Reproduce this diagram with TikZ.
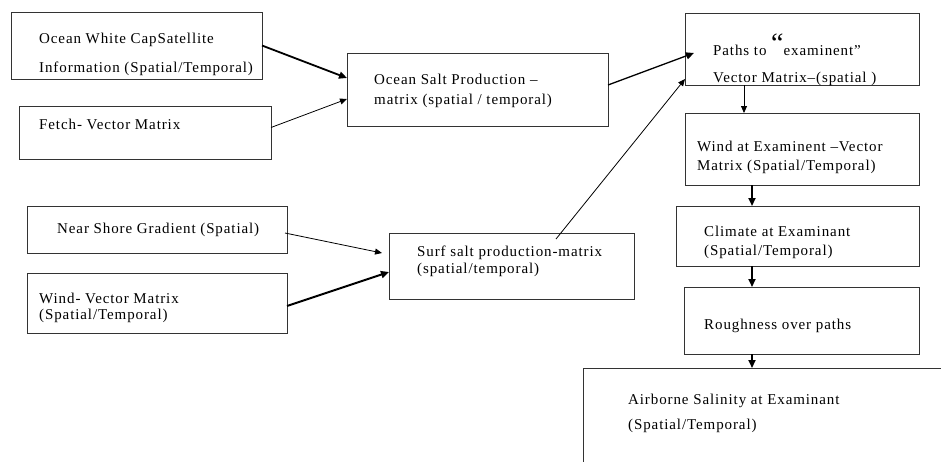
\documentclass[tikz,border=0pt]{standalone}
\usepackage{fontspec}
\setmainfont{Liberation Serif}[LetterSpace=6]
\usepackage{tikz}
\usetikzlibrary{arrows.meta}

\begin{document}
\begin{tikzpicture}[
        x=1pt, y=-1pt,
        box/.style={rectangle, draw=black!80, line width=0.8pt, anchor=north west,
                    inner sep=0pt, outer sep=0pt},
        txt/.style={anchor=north west, inner sep=0pt, align=left,
                    font=\fontsize{15}{20}\selectfont},
        arrow/.style={-{Triangle[length=7pt, width=6pt]}, line width=0.8pt},
        heavy/.style={-{Triangle[length=8pt, width=7pt]}, line width=1.8pt},
    ]
        \useasboundingbox (0,0) rectangle (941,461);
        \clip (0,0) rectangle (941,461);

        % input boxes on the left
        \node[box, minimum width=251pt, minimum height=67pt] (whitecap) at (11,12) {};
        \node[box, minimum width=252pt, minimum height=53pt] (fetch) at (19,106) {};
        \node[box, minimum width=260pt, minimum height=47pt] (nearshore) at (27,206) {};
        \node[box, minimum width=260pt, minimum height=60pt] (windvec) at (27,273) {};

        % production boxes
        \node[box, minimum width=261pt, minimum height=73pt] (oceansalt) at (347,53) {};
        \node[box, minimum width=245pt, minimum height=66pt] (surf) at (389,233) {};

        % chain on the right
        \node[box, minimum width=234pt, minimum height=72pt] (paths) at (685,13) {};
        \node[box, minimum width=234pt, minimum height=72pt] (windat) at (685,113) {};
        \node[box, minimum width=243pt, minimum height=60pt] (climate) at (676,206) {};
        \node[box, minimum width=235pt, minimum height=67pt] (rough) at (684,287) {};
        \node[box, minimum width=400pt, minimum height=130pt] (airborne) at (583,368) {};

        % texts
        \node[txt, font=\fontsize{15}{29}\selectfont] (whitecaptxt) at ([xshift=28pt, yshift=-20.5pt]whitecap.north west)
            {Ocean White CapSatellite\\Information (Spatial/Temporal)};
        \node[txt] (fetchtxt) at ([xshift=20pt, yshift=-12.5pt]fetch.north west) {Fetch- Vector Matrix};
        \node[txt] (nearshoretxt) at ([xshift=30pt, yshift=-16.5pt]nearshore.north west) {Near Shore Gradient (Spatial)};
        \node[txt, font=\fontsize{15}{16}\selectfont] (windvectxt) at ([xshift=12pt, yshift=-19.5pt]windvec.north west)
            {Wind- Vector Matrix\\(Spatial/Temporal)};
        \node[txt] (oceansalttxt) at ([xshift=27pt, yshift=-20.5pt]oceansalt.north west)
            {Ocean Salt Production --\\matrix (spatial / temporal)};
        \node[txt, font=\fontsize{15}{17}\selectfont] (surftxt) at ([xshift=28pt, yshift=-12.5pt]surf.north west)
            {Surf salt production-matrix\\(spatial/temporal)};
        \node[txt, font=\fontsize{15}{27}\selectfont] (pathstxt) at ([xshift=28pt, yshift=-31.5pt]paths.north west)
            {Paths to \smash{\raisebox{3pt}{\fontsize{28}{28}\selectfont “}}examinent”\\Vector Matrix--(spatial )};
        \node[txt, font=\fontsize{15}{19}\selectfont] (windattxt) at ([xshift=12pt, yshift=-27.5pt]windat.north west)
            {Wind at Examinent --Vector\\Matrix (Spatial/Temporal)};
        \node[txt, font=\fontsize{15}{19}\selectfont] (climatetxt) at ([xshift=28pt, yshift=-19.5pt]climate.north west)
            {Climate at Examinant\\(Spatial/Temporal)};
        \node[txt] (roughtxt) at ([xshift=20pt, yshift=-31.5pt]rough.north west) {Roughness over paths};
        \node[txt, font=\fontsize{15}{25}\selectfont] (airbornetxt) at ([xshift=45pt, yshift=-25.5pt]airborne.north west)
            {Airborne Salinity at Examinant\\(Spatial/Temporal)};

        % connectors
        \draw[heavy] (whitecap.east) -- ([yshift=11.5pt]oceansalt.west);
        \draw[arrow] ([yshift=5pt]fetch.east) -- ([yshift=-9.5pt]oceansalt.west);
        \draw[heavy, line width=1.3pt] ([yshift=4.5pt]oceansalt.east) -- ([xshift=9pt, yshift=-4pt]paths.west);
        \draw[arrow] ([xshift=44.5pt, yshift=-6pt]surf.north) -- ([yshift=6pt]paths.south west);
        \draw[arrow] ([xshift=-2pt, yshift=-3.5pt]nearshore.east) -- ([xshift=-7pt, yshift=13pt]surf.west);
        \draw[heavy, line width=2pt] ([yshift=-3pt]windvec.east) -- ([yshift=-6pt]surf.west);
        \draw[arrow] ([xshift=-58pt]paths.south) -- ([xshift=-58pt]paths.south |- windat.north);
        \draw[heavy] ([xshift=-50pt]windat.south) -- ([xshift=-50pt]windat.south |- climate.north);
        \draw[heavy] ([xshift=-45.5pt]climate.south) -- ([xshift=-45.5pt]climate.south |- rough.north);
        \draw[heavy] ([xshift=-49.5pt]rough.south) -- ([xshift=-49.5pt]rough.south |- airborne.north);
    \end{tikzpicture}
\end{document}
